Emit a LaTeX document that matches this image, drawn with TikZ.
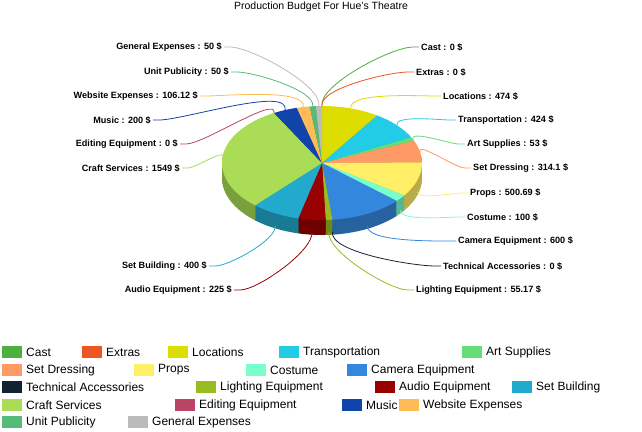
\documentclass[tikz,border=0pt]{standalone}
\usepackage{fontspec}
\setmainfont{Liberation Sans}
\begin{document}
\begin{tikzpicture}[x=1pt,y=1pt,
  lab/.style={font=\bfseries\fontsize{9.1}{10}\selectfont,inner sep=0pt},
  leg/.style={font=\fontsize{12}{13}\selectfont,anchor=west,inner sep=0pt},
  lead/.style={line width=0.8pt}]
\useasboundingbox (0,0) rectangle (642,431);
\fill[white] (0,0) rectangle (642,431);
\definecolor{cCast}{HTML}{4DAF3F}\definecolor{cExtras}{HTML}{EE5522}
\definecolor{cLoc}{HTML}{DDDD00}\definecolor{cTrans}{HTML}{22CCE6}
\definecolor{cArt}{HTML}{66DD77}\definecolor{cSetD}{HTML}{FF9966}
\definecolor{cProps}{HTML}{FFEE66}\definecolor{cCost}{HTML}{77FFCC}
\definecolor{cCam}{HTML}{3388DD}\definecolor{cTech}{HTML}{112233}
\definecolor{cLight}{HTML}{99BB22}\definecolor{cAudio}{HTML}{990000}
\definecolor{cSetB}{HTML}{22AACC}\definecolor{cCraft}{HTML}{AADD55}
\definecolor{cEdit}{HTML}{BB4466}\definecolor{cMusic}{HTML}{1144AA}
\definecolor{cWeb}{HTML}{FFBB55}\definecolor{cUnit}{HTML}{55BB77}
\definecolor{cGen}{HTML}{BBBBBB}
\def\slices{90/56.55/cLoc,56.55/26.63/cTrans,26.63/22.88/cArt,22.88/0.72/cSetD,0.72/-34.62/cProps,-34.62/-41.67/cCost,-41.67/-84.02/cCam,-84.02/-87.91/cLight,-87.91/-103.79/cAudio,-103.79/-132.02/cSetB,-132.02/-241.34/cCraft,-241.34/-255.45/cMusic,-255.45/-262.94/cWeb,-262.94/-266.47/cUnit,-266.47/-270/cGen}
\coordinate (C) at (322,268);
% sides
\foreach \d in {15,14,...,1}{
  \foreach \a/\b/\c in \slices{
    \fill[\c!72!black] ([yshift=-\d]C) -- ++({100*cos(\a)},{57*sin(\a)}) arc[start angle=\a,end angle=\b,x radius=100,y radius=57] -- cycle;
  }
}
% tops
\foreach \a/\b/\c in \slices{
  \fill[\c] (C) -- ++({100*cos(\a)},{57*sin(\a)}) arc[start angle=\a,end angle=\b,x radius=100,y radius=57] -- cycle;
}
\node[font=\fontsize{10.5}{11}\selectfont] (title) at (321,424) {Production Budget For Hue's Theatre};
% right labels
\foreach \n/\x/\y/\a/\c/\t in {
 cast/421/384/90/cCast/{Cast : 0 \$},
 extras/416/359/90/cExtras/{Extras : 0 \$},
 loc/443/335/73.3/cLoc/{Locations : 474 \$},
 trans/458/311/41.6/cTrans/{Transportation : 424 \$},
 art/467/287/24.8/cArt/{Art Supplies : 53 \$},
 setd/473/263/11.8/cSetD/{Set Dressing : 314.1 \$},
 props/470/238/-17/cProps/{Props : 500.69 \$},
 cost/467/214/-38.1/cCost/{Costume : 100 \$},
 cam/458/190/-62.8/cCam/{Camera Equipment : 600 \$},
 tech/443/165/-84.02/cTech/{Technical Accessories : 0 \$},
 light/416/141/-86/cLight/{Lighting Equipment : 55.17 \$}}{
  \node[lab,anchor=west] (\n) at (\x,\y) {\t};
  \pgfmathsetmacro\dy{\a<0?12:0}
  \pgfmathsetmacro\inang{\a<0?-100:100}
  \coordinate (r\n) at ({322+100*cos(\a)},{268+57*sin(\a)-\dy});
  \draw[lead,\c] ([xshift=-2]\n.west) -- ++(-6,0) to[out=180,in=\inang,looseness=0.5] (r\n);
}
% left labels
\foreach \n/\x/\y/\a/\c/\t in {
 gen/222/384/-268.2/cGen/{General Expenses : 50 \$},
 unit/229/359/-264.7/cUnit/{Unit Publicity : 50 \$},
 web/198/335/-259.2/cWeb/{Website Expenses : 106.12 \$},
 music/151/311/-248.4/cMusic/{Music : 200 \$},
 edit/178/287/-241.34/cEdit/{Editing Equipment : 0 \$},
 craft/180/263/-186.7/cCraft/{Craft Services : 1549 \$},
 setb/207/165/-117.9/cSetB/{Set Building : 400 \$},
 audio/232/141/-95.85/cAudio/{Audio Equipment : 225 \$}}{
  \node[lab,anchor=east] (\n) at (\x,\y) {\t};
  \pgfmathsetmacro\dy{\y<200?12:0}
  \pgfmathsetmacro\inang{\y<200?-80:80}
  \coordinate (r\n) at ({322+100*cos(\a)},{268+57*sin(\a)-\dy});
  \draw[lead,\c] ([xshift=2]\n.east) -- ++(6,0) to[out=0,in=\inang,looseness=0.5] (r\n);
}
% legend
\foreach \n/\x/\y/\c/\t in {
 l1/2/352/cCast/Cast, l2/82/352/cExtras/Extras, l3/168/352/cLoc/Locations, l4/279/352/cTrans/Transportation, l5/462/352/cArt/Art Supplies,
 l6/2/370/cSetD/Set Dressing, l7/134/370/cProps/Props, l8/246/370/cCost/Costume, l9/347/370/cCam/Camera Equipment,
 l10/2/387/cTech/Technical Accessories, l11/196/387/cLight/Lighting Equipment, l12/375/387/cAudio/Audio Equipment, l13/512/387/cSetB/Set Building,
 l14/2/405/cCraft/Craft Services, l15/175/405/cEdit/Editing Equipment, l16/342/405/cMusic/Music, l17/399/405/cWeb/Website Expenses,
 l18/2/422/cUnit/Unit Publicity, l19/128/422/cGen/General Expenses}{
  \fill[\c] (\x,{431-\y-6}) rectangle ++(20,12);
  \node[leg] (\n) at (\x+24,431-\y) {\t};
}
\end{tikzpicture}
\end{document}
